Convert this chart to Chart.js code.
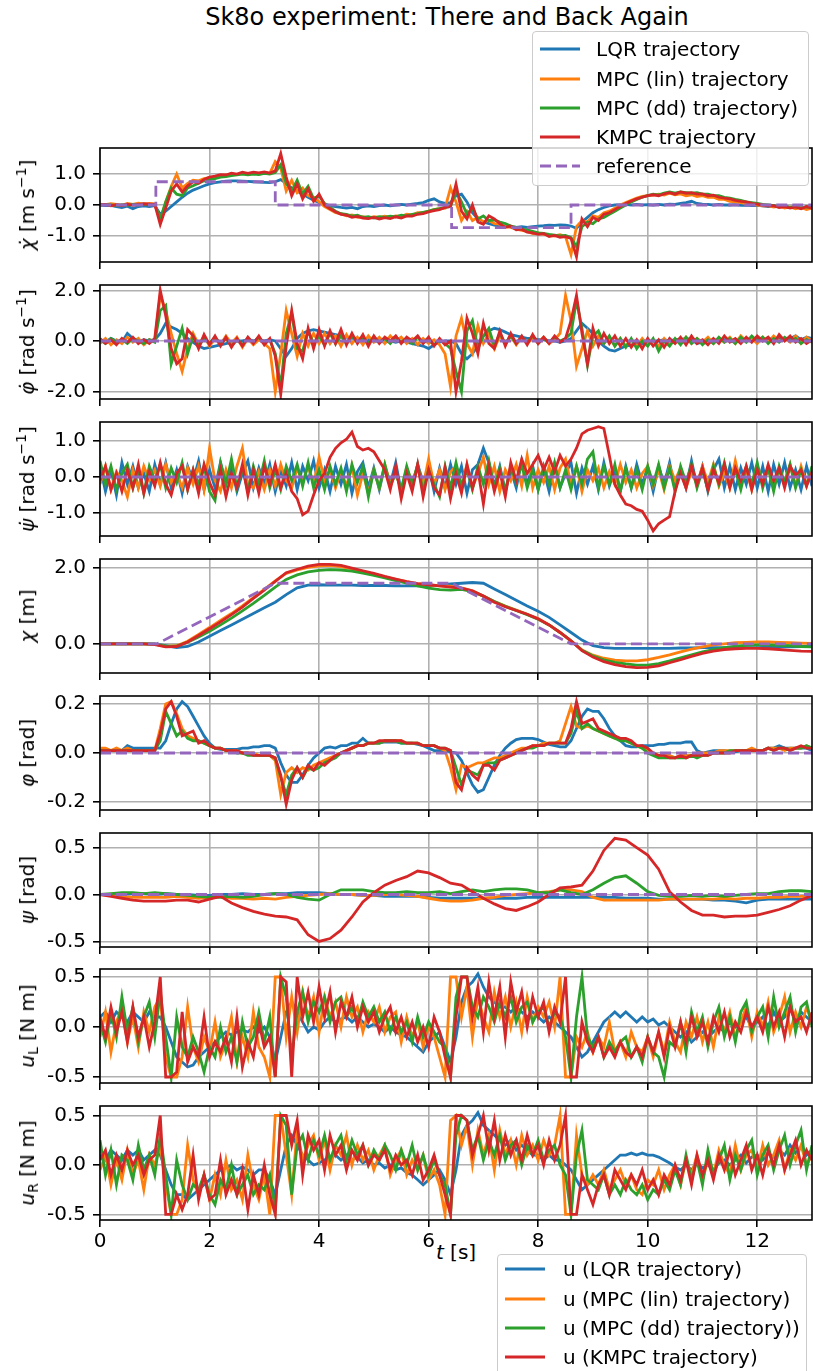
<!DOCTYPE html>
<html>
<head>
<meta charset="utf-8">
<title>Sk8o experiment: There and Back Again</title>
<script src="https://cdn.jsdelivr.net/npm/chart.js@4.4.1/dist/chart.umd.min.js"></script>
<style>
  body { margin: 0; background: #fff; }
  #fig { position: relative; width: 813px; height: 1371px; overflow: hidden; font-family: 'DejaVu Sans', sans-serif; color: #000; }
  #fig canvas { position: absolute; left: 0; }
  .title { position: absolute; top: 3px; left: 447px; transform: translateX(-50%); font-size: 24px; white-space: nowrap; }
  .ylab { position: absolute; left: 27px; font-size: 20px; white-space: nowrap; transform: translate(-50%, -50%) rotate(-90deg); }
  .ylab sup { font-size: 14px; vertical-align: 8px; line-height: 0; }
  .ylab sub { font-size: 14px; vertical-align: -4px; line-height: 0; }
  .xlab { position: absolute; left: 456px; top: 1252px; transform: translate(-50%, -50%); font-size: 20px; white-space: nowrap; }
  .legend { position: absolute; background: rgba(255,255,255,0.8); border: 1px solid #cccccc; border-radius: 4px; z-index: 5; font-size: 20px; }
  .legend .row { position: absolute; left: 0; height: 24px; width: 100%; }
  .legend svg { position: absolute; left: 7px; top: 7px; }
  .legend span { position: absolute; top: 0; line-height: 24px; white-space: nowrap; }
</style>
</head>
<body>
<div id="fig">
  <div class="title">Sk8o experiment: There and Back Again</div>
  <div class="xlab"><i>t</i> [s]</div>
</div>
<script>
// sample times (s)
const t10 = Array.from({length: 131}, (_, i) => i / 10);
const t5 = Array.from({length: 66}, (_, i) => i / 5);
const xTicks = [0, 2, 4, 6, 8, 10, 12];

const trajLabels = ['LQR trajectory', 'MPC (lin) trajectory', 'MPC (dd) trajectory)', 'KMPC trajectory', 'reference'];
const uLabels = ['u (LQR trajectory)', 'u (MPC (lin) trajectory)', 'u (MPC (dd) trajectory))', 'u (KMPC trajectory)'];
const colors = ['#1f77b4', '#ff7f0e', '#2ca02c', '#d62728', '#9467bd'];

// reference signals
const refVelT = [0, 1.02, 1.02, 3.2, 3.2, 6.42, 6.42, 8.6, 8.6, 13];
const refVelV = [0, 0, .75, .75, 0, 0, -.73, -.73, 0, 0];
const refPosT = [0, 1.04, 3.2, 6.42, 8.6, 13];
const refPosV = [0, 0, 1.6, 1.6, 0, 0];
const refZeroT = [0, 13];
const refZeroV = [0, 0];

// chi dot [m/s]
const dchiLqr = [0,-.02,-.01,-.05,-.08,-.04,-.12,-.05,-.03,-.05,-.02,
-.3,-.2,-.05,.1,.25,.38,.48,.55,.62,.68,
.72,.75,.77,.78,.78,.77,.76,.75,.74,.73,
.72,.75,.82,.7,.55,.45,.35,.25,.15,.08,
.02,-.02,-.05,-.08,-.1,-.08,-.12,-.05,-.03,-.05,
-.02,0,-.03,0,.02,0,.03,.05,.08,.15,
.2,.1,.05,.08,.3,.35,.1,-.25,-.45,-.55,
-.6,-.65,-.68,-.7,-.7,-.72,-.7,-.72,-.7,-.68,
-.67,-.65,-.66,-.64,-.65,-.68,-.75,-.55,-.4,-.25,
-.15,-.08,-.03,0,0,.02,0,.02,0,.01,
0,.02,0,.03,.02,.05,.08,.12,.05,.03,
.02,0,.02,0,0,.01,-.01,0,-.02,-.01,
-.03,-.05,-.02,-.06,-.04,-.08,-.05,-.1,-.05,-.07];
const dchiLin = [.03,.01,.04,.02,-.01,.05,.02,.06,.03,.05,.04,
-.5,.1,.6,1,.55,.7,.8,.78,.85,.88,
.9,.95,.97,1,.98,1.02,1,1.03,1,1.05,
1.02,1.4,1.2,.45,.8,.4,.55,.3,.25,.1,
-.05,-.15,-.25,-.28,-.35,-.32,-.4,-.38,-.42,-.38,
-.4,-.36,-.4,-.35,-.37,-.3,-.32,-.25,-.25,-.2,
-.15,-.12,-.1,.55,.1,-.5,-.2,-.5,-.4,-.55,
-.5,-.6,-.62,-.7,-.72,-.78,-.82,-.85,-.92,-.9,
-.95,-.97,-1,-.96,-1.02,-1.6,-.7,-.5,-.55,-.35,
-.4,-.25,-.2,-.1,0,.08,.15,.22,.28,.3,
.32,.35,.32,.38,.33,.36,.3,.33,.27,.3,
.25,.25,.18,.18,.12,.1,.08,.04,.02,0,
-.03,-.02,-.07,-.04,-.1,-.06,-.12,-.08,-.15,-.1];
const dchiDd = [0,.02,0,-.02,.01,-.01,.02,0,.03,.01,.02,
-.45,.1,.55,.35,.3,.55,.62,.7,.78,.82,
.85,.9,.92,.95,.97,1,.97,1,.98,1.02,
1,1.05,1.3,.7,.45,.8,.35,.6,.2,.3,
.05,-.08,-.2,-.28,-.3,-.36,-.33,-.4,-.38,-.42,
-.38,-.4,-.36,-.38,-.33,-.35,-.3,-.28,-.24,-.2,
-.15,-.12,-.08,-.05,.45,.1,-.3,-.1,-.45,-.35,
-.5,-.48,-.55,-.6,-.68,-.72,-.78,-.8,-.85,-.9,
-.92,-.95,-.97,-1,-.98,-1.05,-1.35,-.7,-.55,-.6,
-.45,-.4,-.3,-.2,-.1,0,.1,.18,.25,.3,
.35,.33,.38,.42,.38,.42,.4,.38,.4,.35,
.35,.3,.3,.25,.22,.18,.15,.1,.08,.05,
.02,0,-.02,-.05,-.03,-.08,-.05,-.1,-.06,-.08];
const dchiK = [0,.02,-.03,.01,-.02,.03,-.01,.02,.04,.03,.02,
-.63,-.1,.45,.68,.42,.62,.75,.7,.82,.9,
.93,.98,.97,1.03,1,1.06,1.02,1.06,1.04,1.07,
1.03,1.1,1.66,.9,.3,.68,.2,.52,.12,.35,
0,-.12,-.22,-.3,-.33,-.4,-.37,-.42,-.44,-.4,
-.45,-.41,-.44,-.38,-.42,-.35,-.36,-.3,-.28,-.22,
-.18,-.15,-.08,-.05,.68,-.2,-.45,0,-.55,-.62,
-.35,-.45,-.6,-.72,-.68,-.8,-.78,-.88,-.9,-.95,
-.92,-1.02,-.98,-1.04,-1.02,-1.08,-1.67,-.45,-.7,-.4,
-.5,-.3,-.25,-.15,-.05,.05,.13,.2,.25,.3,
.33,.3,.36,.4,.35,.42,.38,.4,.35,.36,
.3,.32,.25,.22,.2,.15,.12,.1,.05,.03,
0,-.03,-.02,-.08,-.05,-.1,-.06,-.12,-.05,-.1];

// phi dot [rad/s]
const dphiLqr = [.05,-.05,.1,0,-.05,.3,.1,-.05,.05,0,.05,
.3,.7,.55,.45,.3,.1,-.05,-.2,-.3,-.25,
-.2,-.15,-.1,-.05,0,0,.05,0,.05,0,
.05,0,-.3,-.6,-.3,.1,.3,.4,.45,.4,
.35,.3,.25,.2,.15,.1,.1,.05,.05,0,
0,-.05,0,-.05,0,-.05,-.1,-.15,-.2,-.3,
-.15,-.05,0,0,-.1,-.5,-.7,-.5,-.2,.2,
.4,.5,.45,.35,.25,.2,.15,.1,.1,.05,
.05,0,0,-.05,0,.1,.4,.7,.5,.3,
0,-.2,-.35,-.4,-.3,-.2,-.15,-.1,-.1,-.05,
0,0,.05,0,.05,.05,.1,.05,-.1,-.05,
0,.05,0,.05,0,-.05,.05,0,.05,.1,
0,.1,.05,.15,.05,.1,.2,.05,.15,.1];
const dphiLin = [-.1,.1,-.15,.05,-.1,.15,-.05,.1,-.15,.05,0,
1.8,1.2,.3,-.5,-1.2,-.3,.3,-.15,.2,-.2,
.1,-.15,.2,-.1,.15,-.25,.1,-.15,.05,-.1,
-.3,-2,-.5,1.2,.3,-.6,.3,-.2,.3,-.1,
.3,-.1,.2,-.2,.25,-.1,.15,-.15,.2,-.05,
.15,-.1,.2,0,.15,-.1,.1,-.15,.1,-.1,
.05,-.15,-.5,-1.8,.2,.9,-.1,-.5,.6,-.1,
.3,-.3,.2,-.1,.2,-.15,.15,-.1,.1,-.05,
.15,-.1,.05,.3,1.8,.8,-1,-.3,.4,-.2,
.2,-.1,.15,-.2,.1,-.2,.05,-.2,.1,-.15,
.05,-.2,.1,-.15,.05,-.1,.15,-.1,.1,-.05,
.15,-.1,.1,-.05,.15,-.1,.2,0,.1,-.1,
.15,-.05,.2,0,.1,-.05,.2,-.1,.15,0];
const dphiDd = [.05,-.1,.1,-.05,.05,-.1,.1,0,-.1,.05,-.05,
1.2,1.4,-.9,-.2,.5,-.5,.2,-.2,.1,-.1,
.15,-.1,.1,-.2,.05,-.15,.1,-.05,.15,-.1,
.05,-.5,-1.8,.3,1.1,-.3,-.4,.4,-.1,.2,
-.15,.3,-.1,.2,-.1,.2,-.05,.15,-.1,.15,
-.05,.1,-.1,.15,-.05,.1,-.1,.15,-.05,.05,
-.15,.05,-.1,-.3,-1.2,-2,.4,.8,-.3,.2,
.5,-.2,.3,-.1,.2,-.1,.15,-.05,.2,-.1,
.1,-.05,.15,0,.1,.3,1.6,.5,-.95,.2,
.4,-.1,.2,-.2,.1,-.25,.1,-.3,0,-.2,
.1,-.4,0,-.2,.1,-.15,.15,-.1,.1,-.15,
.05,-.1,.15,-.05,.1,-.1,.15,-.05,.2,0,
.15,-.1,.1,-.05,.15,0,.1,-.1,.05,-.05];
const dphiK = [.1,-.1,.05,-.15,.1,-.05,.15,-.1,.05,-.1,.1,
2,1,-.3,-.9,-.7,.45,.2,-.3,.25,-.15,
.2,-.2,.15,-.25,.1,-.2,.15,-.1,.2,-.15,
.1,-.6,-2.1,-.2,1.2,-.1,-.7,.5,-.3,.45,
-.2,.4,-.1,.45,-.15,.3,-.1,.25,-.2,.2,
-.1,.15,0,.2,-.1,.15,0,.2,-.1,.15,
-.2,.1,-.15,0,-2,-.8,.9,.3,-.5,.7,
-.1,-.3,.4,-.2,.3,-.1,.2,-.15,.25,-.1,
.15,-.1,.2,-.05,.1,.8,1.8,.3,-.9,.5,
-.2,.3,-.1,.2,-.2,.1,-.25,.05,-.3,.1,
-.2,.05,-.25,.1,-.1,.15,-.15,.2,-.1,.05,
-.15,.1,-.1,.2,-.05,.1,-.1,.15,-.05,.2,
0,.15,-.1,.25,0,.2,-.05,.1,-.1,.05];

// psi dot [rad/s]
const dpsiLqr = [.3,-.4,.2,-.5,.4,-.2,.3,-.3,.1,-.4,.35,
-.2,.4,-.3,.2,-.45,.3,-.1,.45,-.35,.2,
-.3,.4,-.2,.3,-.4,.1,.45,-.3,.25,-.2,
.35,-.4,.2,-.25,.4,-.35,.3,-.1,.45,-.3,
.2,-.4,.3,-.2,.35,-.45,.15,.4,-.3,.25,
-.35,.3,-.2,.4,-.4,.2,-.3,.35,-.15,.3,
-.4,.25,-.3,.35,-.2,.3,-.45,.2,.35,.8,
.4,-.25,.3,-.4,.2,-.3,.45,-.2,.3,-.35,
.2,-.4,.35,-.3,.1,.4,-.45,.25,-.2,.3,
-.35,.4,-.25,.2,-.4,.3,-.3,.35,-.2,.25,
-.4,.3,-.2,.4,-.35,.2,-.3,.45,-.25,.3,
-.4,.2,.5,-.3,.3,-.35,.25,-.2,.4,-.3,
.3,-.4,.35,-.2,.4,-.3,.2,-.35,.3,-.25];
const dpsiLin = [-.2,.3,-.35,.15,-.1,-.55,.2,-.3,.3,-.1,.2,
-.25,.35,-.15,.1,-.3,.25,-.2,.3,-.35,.8,
-.1,-.4,.2,-.3,.3,.8,-.2,-.3,.15,-.35,
.2,-.25,.35,-.1,-.3,.25,-.15,.3,-.2,.55,
-.1,.2,-.3,.15,-.25,.3,-.5,.1,-.45,.2,
-.3,.35,-.2,.1,-.35,.25,-.15,.3,-.25,.5,
-.2,.2,-.35,.15,.3,-.25,.35,-.3,.1,.55,
-.2,.3,-.4,.2,-.1,.35,-.25,.6,-.3,.2,
-.15,.3,-.35,.25,.5,-.2,.3,-.4,.2,-.1,
.25,-.3,.15,-.2,.35,-.15,.2,-.3,.1,.3,
-.25,.2,-.35,.3,-.1,.25,-.3,.15,-.2,.3,
-.15,.35,-.25,.1,-.3,.45,-.2,.2,-.35,.3,
-.1,.25,-.3,.2,-.15,.35,-.25,.3,-.2,.1];
const dpsiDd = [.45,-.2,.3,-.35,.1,.35,-.3,.2,-.45,.3,-.1,
.35,-.3,.25,-.15,.4,-.35,.2,-.2,.3,-.4,
-.65,.4,-.2,.5,-.3,.25,-.4,.3,-.2,.45,
-.3,.2,-.35,.3,-.1,.35,-.25,.4,-.3,.2,
-.35,.3,-.2,.25,-.4,.35,-.15,.3,-.55,.2,
-.3,.35,-.25,.1,-.35,.3,-.2,.35,-.4,.2,
-.2,-.55,.3,-.3,.4,-.25,.2,-.35,.3,-.2,
.45,-.3,.25,-.4,.3,-.15,.35,-.3,.2,-.35,
.3,-.2,.4,-.3,.2,-.35,.3,-.2,.5,.7,
-.3,.3,-.2,.35,-.4,.25,-.3,.2,-.35,.3,
-.2,.35,-.3,.25,-.4,.3,-.15,.35,-.3,.2,
-.35,.3,-.2,.4,-.25,.2,-.35,.3,-.2,.4,
-.3,.25,-.4,.3,-.15,.35,-.3,.2,-.25,.3];
const dpsiK = [-.1,.3,-.35,.1,-.4,.2,-.3,.35,-.45,.15,-.25,
.4,-.2,-.5,.1,.3,-.35,.2,-.45,.35,-.15,
-.5,.2,-.55,.1,-.3,.35,-.5,.2,-.45,.3,
-.2,.35,-.3,.1,-.4,-.6,-1.05,-.95,-.5,-.1,
.1,.55,.8,.95,1.05,1.25,.85,.75,.8,.7,
.45,.2,-.35,.3,-.6,.1,-.4,.35,-.55,.2,
-.3,-.5,.25,-.6,.1,-.45,.35,-.3,.2,-.75,
.3,-.4,.15,-.55,.4,-.1,.5,.1,.35,.6,
.2,.55,.15,.6,.3,.5,.8,1.2,1.3,1.35,
1.4,1.35,.6,-.2,-.5,-.75,-.8,-.9,-.95,-1.2,
-1.5,-1.3,-1.2,-1.1,-.4,.1,-.3,.3,-.2,.25,
-.35,.2,-.15,.35,-.3,.25,-.1,.3,-.35,.2,
-.2,.35,-.1,.25,-.3,.3,.05,.2,-.25,.15];

// chi [m], 0.2 s samples
const chiLqr = [0,0,0,0,0, 0,-.05,-.1,-.07,.05, .2,.35,.5,.65,.8, .95,1.1,1.3,1.48,1.55,
1.56,1.55,1.55,1.55,1.54, 1.54,1.54,1.53,1.53,1.53, 1.53,1.55,1.58,1.6,1.62, 1.6,1.45,1.3,1.15,1,
.86,.7,.5,.3,.1, -.05,-.1,-.12,-.12,-.12, -.12,-.12,-.12,-.11,-.11, -.1,-.1,-.1,-.1,-.1,
-.1,-.09,-.08,-.08,-.07, -.06];
const chiLin = [0,0,0,0,0, -.01,-.07,-.05,.07,.25, .43,.62,.8,1,1.22, 1.44,1.66,1.86,1.95,2.02,
2.06,2.07,2.04,1.98,1.91, 1.84,1.77,1.7,1.64,1.59, 1.56,1.53,1.52,1.48,1.4, 1.26,1.12,1,.89,.78,
.66,.5,.3,.08,-.16, -.3,-.38,-.43,-.45,-.45, -.42,-.36,-.29,-.21,-.14, -.08,-.03,0,.03,.04,
.05,.05,.04,.03,.02, .01];
const chiDd = [0,0,0,0,0, -.01,-.06,-.06,.04,.18, .33,.5,.68,.87,1.07, 1.28,1.5,1.7,1.82,1.9,
1.94,1.96,1.95,1.92,1.87, 1.81,1.74,1.67,1.6,1.53, 1.47,1.43,1.42,1.44,1.38, 1.26,1.12,.99,.88,.77,
.65,.5,.3,.08,-.17, -.32,-.42,-.49,-.53,-.56, -.56,-.52,-.45,-.37,-.29, -.21,-.15,-.1,-.06,-.04,
-.03,-.03,-.04,-.05,-.07, -.08];
const chiK = [0,0,0,0,0, -.02,-.08,-.07,.05,.22, .4,.58,.77,.97,1.2, 1.42,1.65,1.88,1.97,2.05,
2.1,2.1,2.07,2,1.93, 1.86,1.78,1.71,1.64,1.59, 1.56,1.53,1.5,1.47,1.4, 1.26,1.1,.98,.88,.78,
.66,.5,.3,.08,-.18, -.35,-.47,-.55,-.6,-.63, -.62,-.58,-.5,-.42,-.33, -.25,-.19,-.15,-.13,-.12,
-.12,-.13,-.15,-.17,-.19, -.2];

// phi [rad]
const phiLqr = [.01,.01,.01,.01,.01,.03,.02,.02,.02,.02,.02,
.02,.05,.12,.18,.21,.19,.15,.11,.07,.04,
.02,.015,.015,.015,.015,.02,.02,.025,.025,.03,
.03,.02,-.04,-.09,-.12,-.12,-.09,-.05,-.02,0,
.02,.025,.02,.03,.03,.04,.04,.06,.04,.04,
.04,.045,.045,.045,.04,.04,.04,.035,.03,.02,
.01,.01,.01,.005,0,-.03,-.08,-.13,-.16,-.15,
-.1,-.05,-.01,.02,.04,.055,.06,.06,.06,.055,
.045,.035,.03,.025,.025,.05,.1,.15,.18,.17,
.17,.14,.1,.07,.05,.03,.025,.025,.03,.03,
.03,.035,.035,.04,.04,.04,.045,.045,.01,0,
.005,.01,.01,.01,.005,.005,.01,.01,.01,.01,
.01,.02,.02,.03,.02,.02,.02,.02,.02,.01];
const phiLin = [.02,.02,.01,.02,.01,.02,.01,.01,.01,.01,.01,
.1,.2,.21,.16,.1,.07,.06,.05,.04,.03,
.02,.02,.01,.01,.01,0,0,0,-.01,-.01,
-.01,-.03,-.17,-.08,-.06,-.08,-.06,-.07,-.05,-.04,
-.03,-.02,-.01,0,.01,.02,.03,.03,.04,.04,
.04,.05,.05,.05,.05,.04,.04,.04,.03,.03,
.03,.02,.01,-.06,-.15,-.05,-.06,-.05,-.04,-.04,
-.03,-.02,-.02,-.01,0,.01,.02,.02,.03,.03,
.04,.04,.04,.05,.12,.19,.11,.1,.11,.1,
.09,.08,.07,.06,.06,.05,.04,.03,.02,.01,
0,-.01,-.01,-.01,-.02,-.01,-.01,-.01,0,0,
0,0,.01,.01,.01,.01,.01,.01,.02,.01,
.01,.02,.02,.02,.01,.02,.02,.02,.03,.02];
const phiDd = [.01,.01,.01,.01,.01,.01,.01,.01,.01,.01,.01,
.05,.17,.12,.07,.09,.06,.05,.05,.04,.03,
.02,.02,.01,.01,0,0,-.01,-.01,-.01,-.01,
-.01,-.02,-.1,-.17,-.09,-.06,-.1,-.06,-.07,-.06,
-.04,-.03,-.02,0,.01,.02,.03,.03,.04,.04,
.04,.05,.05,.05,.04,.04,.04,.04,.03,.03,
.03,.02,.02,.01,-.06,-.13,-.07,-.08,-.09,-.05,
-.04,-.04,-.03,-.02,-.01,0,.01,.02,.02,.03,
.03,.04,.04,.04,.04,.08,.17,.1,.12,.1,
.09,.08,.07,.06,.05,.05,.04,.03,.02,0,
-.01,-.02,-.02,-.02,-.02,-.02,-.02,-.01,-.02,-.01,
-.01,0,0,0,.01,.01,.01,.01,.01,.01,
.01,.02,.01,.02,.02,.01,.02,.02,.03,.02];
const phiK = [.01,.01,.01,.01,.01,.01,.01,.01,.01,.01,.01,
.08,.18,.21,.15,.07,.08,.09,.04,.05,.03,
.02,.02,.01,.01,.01,0,0,-.01,-.01,-.01,
-.01,-.02,-.09,-.21,-.11,-.06,-.1,-.05,-.07,-.04,
-.05,-.03,-.01,0,.01,.02,.03,.03,.04,.04,
.05,.05,.05,.05,.05,.04,.04,.04,.03,.03,
.03,.02,.02,.01,-.12,-.15,-.06,-.09,-.11,-.05,
-.05,-.07,-.03,-.02,-.01,0,.01,.02,.03,.03,
.03,.04,.04,.04,.04,.1,.21,.12,.13,.14,
.1,.09,.08,.07,.06,.06,.05,.03,.03,.02,
0,-.01,-.01,-.02,-.02,-.01,-.02,-.01,-.01,-.01,
-.01,0,0,0,0,.01,.01,.01,.01,.01,
.01,.02,.01,.02,.02,.01,.02,.03,.02,.02];

// psi [rad], 0.2 s samples
const psiLqr = [0,0,0,.01,.01, 0,.01,0,0,-.01, -.01,0,0,.01,0, 0,.01,.01,.02,.02,
.02,.01,0,0,-.01, -.01,-.02,-.02,-.02,-.02, -.03,-.04,-.04,-.04,-.04, -.04,-.04,-.04,-.04,-.03,
-.03,-.03,-.03,-.03,-.03, -.03,-.03,-.03,-.04,-.04, -.04,-.05,-.05,-.05,-.05, -.05,-.06,-.06,-.07,-.09,
-.06,-.05,-.05,-.05,-.05, -.05];
const psiLin = [0,-.01,-.02,-.03,-.03, -.03,-.03,-.02,-.03,-.04, -.03,-.02,-.04,-.04,-.05, -.04,-.05,-.03,-.02,-.01,
0,.01,0,0,-.01, -.01,0,0,-.01,-.02, -.04,-.06,-.07,-.07,-.06, -.04,-.03,-.01,0,.01,
.02,.03,.05,.05,.03, -.03,-.06,-.06,-.06,-.06, -.06,-.06,-.05,-.05,-.05, -.05,-.05,-.04,-.05,-.04,
-.04,-.03,-.03,-.02,-.02, -.02];
const psiDd = [0,.01,.02,.02,.01, .02,.01,0,-.01,-.02, -.03,-.03,-.02,-.03,-.02, 0,.01,0,-.03,-.05,
-.06,0,.05,.05,.05, .03,.02,.02,.03,.02, .02,.03,.01,.03,.05, .03,.05,.06,.06,.05,
.02,.02,.05,.02,0, .05,.12,.18,.2,.12, .03,-.01,-.02,-.02,-.01, -.02,-.01,-.02,-.01,0,
.01,.01,.03,.04,.04, .03];
const psiK = [0,-.02,-.04,-.06,-.07, -.07,-.07,-.06,-.06,-.08, -.05,-.02,-.09,-.14,-.18, -.21,-.23,-.24,-.27,-.43,
-.5,-.47,-.38,-.24,-.08, .02,.1,.15,.19,.25, .23,.18,.12,.1,.03, -.04,-.1,-.15,-.17,-.13,
-.08,0,.07,.08,.1, .25,.47,.6,.58,.5, .42,.27,.03,-.08,-.17, -.22,-.22,-.24,-.23,-.23,
-.22,-.19,-.16,-.12,-.06, -.01];

// u_L [N m]
const uLLqr = [.1,.15,.05,.15,.1,.05,.15,.1,.05,.15,.1,
.1,0,-.15,-.3,-.35,-.4,-.38,-.3,-.25,-.2,
-.15,-.1,-.05,-.08,-.05,-.03,-.05,0,-.05,0,
-.1,-.35,-.1,.15,.25,.15,.05,-.05,0,-.03,
.05,.1,.05,.08,.1,.05,.1,.05,0,.03,
0,-.05,0,-.05,-.08,-.1,-.15,-.2,-.25,-.15,
-.1,-.05,-.2,-.35,-.1,.25,.4,.45,.53,.4,
.3,.25,.2,.2,.15,.2,.15,.1,.15,.1,
.05,.1,.05,0,-.05,-.1,-.2,-.3,-.25,-.15,
-.05,.05,.1,.15,.1,.15,.1,.05,.1,.05,
.08,.02,.05,0,-.05,-.1,-.05,-.15,-.1,-.05,
-.1,-.05,0,-.05,.05,0,.05,.1,0,.05,
.1,0,.15,.05,.1,.2,.05,.15,.1,.05];
const uLLin = [-.1,.15,-.25,.05,.2,-.15,.1,-.2,.15,-.05,.2,
.3,-.3,-.5,-.5,-.3,.2,-.2,-.35,-.1,-.25,
.05,-.3,-.15,.1,-.35,-.1,-.3,.15,-.2,-.3,
-.5,.5,.5,-.1,.3,-.05,.35,.1,.3,-.05,
.3,.1,.25,0,.3,.1,.2,-.05,.15,.05,
.2,-.05,.1,.15,-.15,.1,-.1,.05,-.2,0,
-.1,-.3,-.5,.5,.5,.1,.4,-.1,.3,.1,
-.05,.35,.1,.3,0,.25,-.05,.3,.05,.2,
.1,.25,0,.5,-.5,-.5,-.1,-.2,-.05,-.25,
-.1,-.2,.05,-.25,-.15,-.3,-.05,-.2,-.25,-.1,
-.3,-.05,-.25,.05,-.15,-.25,.05,-.1,.1,-.15,
.05,-.2,.1,-.05,.15,-.1,.05,.2,-.1,.15,
0,.25,-.05,.1,.3,-.05,.15,0,.2,.05];
const uLDd = [.05,-.15,.15,-.1,.3,-.05,.2,-.15,.1,.25,-.1,
.35,-.1,-.5,.1,-.2,-.3,-.1,-.25,-.45,-.2,
-.3,0,-.25,-.1,-.35,.05,-.2,-.1,.15,-.15,
.1,-.5,.5,.3,-.3,.15,.35,.05,.25,.15,
.3,.05,.25,.3,.1,.2,.05,.25,.1,.2,
.05,.15,-.05,.1,-.05,.05,-.15,.1,-.1,.05,
-.05,-.15,-.2,-.5,.3,.5,.5,.2,.1,.3,
.2,.05,.25,.1,.3,.05,.2,.25,.05,.15,
.2,0,.15,.1,-.1,-.5,.1,.5,-.1,-.2,
-.1,-.3,-.15,-.25,-.15,-.1,-.3,-.2,-.35,-.1,
-.25,-.3,-.5,-.15,-.2,.05,-.25,.15,-.05,.1,
-.2,.05,.2,-.1,.1,-.15,.15,.25,-.05,.1,
.2,-.1,.3,0,.15,.3,-.05,.2,.25,0];
const uLK = [.1,-.1,.2,-.05,.15,-.15,.2,-.1,.1,-.2,.05,
.5,-.5,-.5,-.45,.15,-.35,-.2,-.3,.1,-.3,
-.15,-.25,-.1,-.35,.1,-.4,-.15,-.3,.05,-.2,
-.1,-.5,.5,.45,-.5,.5,.1,.35,.05,.4,
.1,.35,-.05,.25,.1,.3,0,.2,.05,.15,
-.05,.1,.2,-.05,.1,-.1,.05,-.15,0,-.2,
.1,-.05,-.3,-.5,.1,.5,.5,.1,.4,-.05,
.45,.1,.4,-.1,.45,.15,.35,0,.3,.1,
.25,-.05,.2,.05,.5,-.5,-.5,.05,-.15,-.25,
-.1,-.3,-.2,-.3,-.15,-.25,-.3,-.2,-.3,-.1,
-.25,-.05,-.3,0,-.2,.05,-.15,.1,-.1,.05,
-.15,.1,-.05,.15,-.1,.05,-.05,.15,0,.1,
-.05,.2,0,.15,-.1,.2,.05,.1,-.05,.15];

// u_R [N m]
const uRLqr = [.1,.05,.15,.1,.05,.15,.1,.15,.05,.1,.15,
.1,-.05,-.2,-.3,-.3,-.35,-.3,-.25,-.2,-.15,
-.1,-.05,-.03,0,-.05,-.02,-.05,-.1,-.05,-.05,
-.15,-.3,-.05,.2,.3,.2,.1,.05,0,.02,
.05,.08,.1,.05,.1,.05,.08,.02,.05,0,
.02,-.03,0,-.05,-.03,-.08,-.1,-.15,-.2,-.15,
-.1,-.05,-.15,-.3,-.05,.3,.4,.45,.53,.4,
.35,.3,.25,.2,.25,.15,.2,.15,.1,.1,
.05,.1,.05,.05,0,-.05,-.15,-.25,-.2,-.15,
-.1,-.05,0,.05,.1,.1,.12,.1,.12,.1,
.1,.08,.05,.02,-.02,-.05,0,-.05,.02,-.03,
0,-.05,.02,.05,0,.05,.1,.02,.08,.1,
.05,.12,.08,.15,.1,.2,.12,.18,.1,.15];
const uRLin = [-.05,.1,-.2,.05,-.15,.15,-.1,.05,-.25,.1,0,
.2,-.2,-.5,-.5,-.35,.2,-.15,-.3,-.1,-.35,
-.1,-.3,.05,-.25,-.15,-.35,.1,-.2,-.35,-.1,
-.5,.5,.5,.1,-.3,.35,.05,.2,.3,.05,
.25,-.05,.2,.1,.3,0,.2,.05,.15,-.05,
.1,.2,-.1,.05,.15,-.1,.05,-.05,.1,-.15,
-.05,-.2,-.5,.45,.5,.2,.4,0,.35,.1,
.3,-.05,.35,.1,.25,0,.3,.1,.2,.05,
.25,.1,.2,.5,-.5,-.5,.3,-.1,-.2,-.1,
-.2,-.05,-.25,-.15,-.05,-.2,-.1,-.25,-.3,-.15,
-.2,-.05,-.25,-.1,0,-.2,.05,-.1,.1,-.15,
.05,-.1,.15,0,-.1,.2,-.05,.1,.15,-.05,
.2,0,.1,.25,-.05,.15,.05,.2,0,.1];
const uRDd = [.25,-.1,.15,-.2,.1,.05,-.15,.2,-.05,.1,-.1,
.3,-.1,-.5,.05,-.2,-.35,-.2,-.25,-.1,-.3,
-.4,-.15,-.25,0,-.3,-.2,-.1,-.3,-.2,-.25,
-.1,-.45,.5,.4,-.3,.2,.3,.05,.25,.1,
.3,.05,.2,.3,.05,.25,.1,.2,0,.15,
.05,.2,.1,-.05,.15,0,.2,-.05,.1,-.1,
.05,-.1,-.2,-.5,.3,.5,.45,.15,.3,.05,
.25,.1,.3,.05,.2,.25,0,.2,.1,.25,
.05,.15,.2,0,-.1,-.5,.1,.35,-.15,-.2,
-.25,-.1,-.3,-.2,-.3,-.15,-.25,-.3,-.2,-.35,
-.25,-.3,-.15,-.25,-.05,-.2,.1,-.15,.05,-.2,
.15,-.1,.05,.2,-.15,.1,-.05,.15,.25,-.1,
.1,.2,-.05,.15,.3,0,.2,.35,-.05,.2];
const uRK = [.05,.15,-.1,.1,-.05,.15,0,.1,-.1,.05,.1,
.5,-.5,-.5,-.3,-.45,-.3,.1,-.35,-.1,-.35,
-.3,.05,-.3,-.15,-.3,-.05,-.45,-.1,-.3,0,
-.3,-.5,.5,.5,.2,.45,-.1,.3,.15,.25,
-.05,.3,.1,.2,-.05,.15,.05,.2,0,.1,
.05,.15,-.05,.1,0,.05,-.1,.1,-.15,-.05,
.1,-.1,-.3,-.5,.5,.5,.45,.1,.3,.5,
.15,.45,.05,.3,.1,.25,.05,.3,.1,.2,
0,.25,.05,.2,.5,-.5,-.5,-.1,-.25,-.4,
-.2,-.1,-.3,-.05,-.15,-.25,-.1,-.2,-.05,-.25,
-.15,-.3,-.1,-.2,0,-.15,.05,-.2,.1,-.1,
.05,-.15,.1,-.05,.15,-.1,.05,.2,-.05,.1,
-.1,.15,0,.2,-.05,.1,.25,0,.15,.05];

const PAD_TOP = 10, PLOT_H = 114;

const panels = [
  {top: 148, lo: -1.84, hi: 1.84, yt: [-1, 0, 1], t: t10, s: [dchiLqr, dchiLin, dchiDd, dchiK], rt: refVelT, rv: refVelV,
   lab: '<i>χ̇</i> [m s<sup>−1</sup>]'},
  {top: 285, lo: -2.29, hi: 2.21, yt: [-2, 0, 2], t: t10, s: [dphiLqr, dphiLin, dphiDd, dphiK], rt: refZeroT, rv: refZeroV,
   lab: '<i>φ̇</i> [rad s<sup>−1</sup>]'},
  {top: 422, lo: -1.64, hi: 1.53, yt: [-1, 0, 1], t: t10, s: [dpsiLqr, dpsiLin, dpsiDd, dpsiK], rt: refZeroT, rv: refZeroV,
   lab: '<i>ψ̇</i> [rad s<sup>−1</sup>]'},
  {top: 559, lo: -0.77, hi: 2.24, yt: [0, 2], t: t5, s: [chiLqr, chiLin, chiDd, chiK], rt: refPosT, rv: refPosV,
   lab: '<i>χ</i> [m]'},
  {top: 696, lo: -0.233, hi: 0.233, yt: [-0.2, 0, 0.2], t: t10, s: [phiLqr, phiLin, phiDd, phiK], rt: refZeroT, rv: refZeroV,
   lab: '<i>φ</i> [rad]'},
  {top: 833, lo: -0.56, hi: 0.656, yt: [-0.5, 0, 0.5], t: t5, s: [psiLqr, psiLin, psiDd, psiK], rt: refZeroT, rv: refZeroV,
   lab: '<i>ψ</i> [rad]'},
  {top: 969, lo: -0.56, hi: 0.58, yt: [-0.5, 0, 0.5], t: t10, s: [uLLqr, uLLin, uLDd, uLK],
   lab: '<i>u</i><sub>L</sub> [N m]'},
  {top: 1106, lo: -0.556, hi: 0.596, yt: [-0.5, 0, 0.5], t: t10, s: [uRLqr, uRLin, uRDd, uRK],
   lab: '<i>u</i><sub>R</sub> [N m]'}
];

Chart.defaults.font.family = "'DejaVu Sans', sans-serif";
Chart.defaults.font.size = 20;
Chart.defaults.color = '#000';

const frame = {
  id: 'frame',
  afterDraw(chart) {
    const a = chart.chartArea, c = chart.ctx;
    c.save();
    c.strokeStyle = '#000';
    c.lineWidth = 1.6;
    c.strokeRect(a.left, a.top, a.right - a.left, a.bottom - a.top);
    c.restore();
  }
};

function pts(tt, vv) { return vv.map((v, i) => ({x: tt[i], y: v})); }

function series(label, tt, vv, color, dash) {
  return {label: label, data: pts(tt, vv), borderColor: color, borderWidth: 2.8,
          borderDash: dash || [], pointRadius: 0, fill: false, tension: 0};
}

const fig = document.getElementById('fig');

panels.forEach((p, k) => {
  const last = k === panels.length - 1;
  const cv = document.createElement('canvas');
  cv.width = 813;
  cv.height = PAD_TOP + PLOT_H + (last ? 40 : 8);
  cv.style.top = (p.top - PAD_TOP) + 'px';
  fig.appendChild(cv);

  const lab = document.createElement('div');
  lab.className = 'ylab';
  lab.style.top = (p.top + PLOT_H / 2) + 'px';
  lab.innerHTML = p.lab;
  fig.appendChild(lab);

  const names = last || k === 6 ? uLabels : trajLabels;
  const ds = [];
  if (p.rt) ds.push(series('reference', p.rt, p.rv, colors[4], [11, 5]));
  for (let j = 3; j >= 0; j--) ds.push(series(names[j], p.t, p.s[j], colors[j]));

  new Chart(cv, {
    type: 'line',
    data: {datasets: ds},
    options: {
      responsive: false,
      animation: false,
      devicePixelRatio: 1,
      layout: {padding: {top: PAD_TOP, right: 1, bottom: 0, left: 0}},
      plugins: {legend: {display: false}, tooltip: {enabled: false}},
      scales: {
        x: {
          type: 'linear', min: 0, max: 13,
          afterBuildTicks: s => { s.ticks = xTicks.map(v => ({value: v})); },
          afterFit: s => { s.height = last ? 40 : 8; s.paddingLeft = 0; s.paddingRight = 0; },
          ticks: {display: last, padding: 3, maxRotation: 0, callback: v => String(v)},
          grid: {color: '#b0b0b0', lineWidth: 1.6, tickColor: '#000', tickLength: 7, tickWidth: 1.6},
          border: {display: false}
        },
        y: {
          min: p.lo, max: p.hi,
          afterBuildTicks: s => { s.ticks = p.yt.map(v => ({value: v})); },
          afterFit: s => { s.width = 100; s.paddingTop = 0; s.paddingBottom = 0; },
          ticks: {padding: 7, callback: v => Number(v).toFixed(1)},
          grid: {color: '#b0b0b0', lineWidth: 1.6, tickColor: '#000', tickLength: 7, tickWidth: 1.6},
          border: {display: false}
        }
      }
    },
    plugins: [frame]
  });
});

// legends
function makeLegend(left, top, width, height, labels, rowTops) {
  const box = document.createElement('div');
  box.className = 'legend';
  box.style.left = left + 'px';
  box.style.top = top + 'px';
  box.style.width = width + 'px';
  box.style.height = height + 'px';
  labels.forEach((txt, i) => {
    const row = document.createElement('div');
    row.className = 'row';
    row.style.top = rowTops[i] + 'px';
    const dash = i === 4 ? ' stroke-dasharray="11 5"' : '';
    row.innerHTML = '<svg width="40" height="10"><line x1="0" y1="5" x2="40" y2="5" stroke="' + colors[i] +
      '" stroke-width="3"' + dash + '/></svg><span style="left:' + (width > 300 ? 65 : 63) + 'px">' + txt + '</span>';
    box.appendChild(row);
  });
  fig.appendChild(box);
}
makeLegend(532, 31, 275, 153, trajLabels, [5, 35, 64, 93, 122]);
makeLegend(497, 1254, 308, 130, uLabels, [2, 32, 61, 90]);
</script>
</body>
</html>
